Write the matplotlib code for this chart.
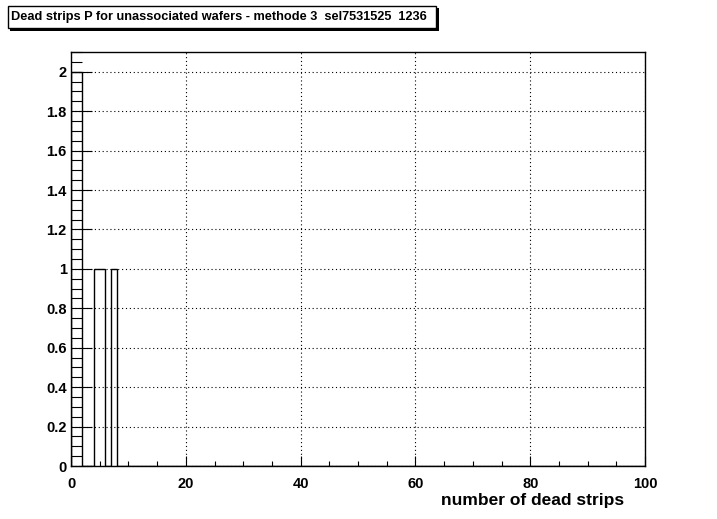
import numpy as np
import matplotlib
matplotlib.use("Agg")
import matplotlib.pyplot as plt
from matplotlib.patches import Rectangle

# Data (bins of width 1 on [0,100])
bin_low = [0, 1, 4, 5, 7]
bin_count = [2, 2, 1, 1, 1]
x_ticks = [0, 20, 40, 60, 80, 100]
x_ticklabels = ["0", "20", "40", "60", "80", "100"]
y_ticks = [0, 0.2, 0.4, 0.6, 0.8, 1.0, 1.2, 1.4, 1.6, 1.8, 2.0]
y_ticklabels = ["0", "0.2", "0.4", "0.6", "0.8", "1", "1.2", "1.4", "1.6", "1.8", "2"]
title = "Dead strips P for unassociated wafers - methode 3  sel7531525  1236"
xlabel = "number of dead strips"

edges = np.arange(0, 101, 1)
counts = np.zeros(100)
for b, c in zip(bin_low, bin_count):
    counts[b] = c

plt.rcParams['font.family'] = ['Liberation Sans', 'DejaVu Sans']
plt.rcParams['font.weight'] = 'bold'

W, H = 717, 519
fig = plt.figure(figsize=(W / 100, H / 100), dpi=100)
fig.patch.set_facecolor('white')

L, R, T, B = 71, 645, 52, 466
ax = fig.add_axes([L / W, 1 - B / H, (R - L) / W, (B - T) / H])
ax.stairs(counts, edges, color='black', linewidth=1.0, baseline=0)
ax.set_xlim(0, 100)
ax.set_ylim(0, 2.1)

ax.set_xticks(x_ticks)
ax.set_xticklabels(x_ticklabels, fontweight='bold', fontsize=10.5)
ax.set_xticks(np.arange(0, 101, 5), minor=True)
ax.set_yticks(y_ticks)
ax.set_yticklabels(y_ticklabels, fontweight='bold', fontsize=10.5)
ax.set_yticks(np.arange(0, 2.1001, 0.05), minor=True)

ax.tick_params(axis='x', which='major', direction='in', length=7.2, width=0.8, pad=8, top=False)
ax.tick_params(axis='x', which='minor', direction='in', length=3.6, width=0.8, top=False)
ax.tick_params(axis='y', which='major', direction='in', length=15, width=0.8, pad=3, right=False)
ax.tick_params(axis='y', which='minor', direction='in', length=8, width=0.8, right=False)

ax.grid(True, which='major', color='black', linestyle=(0, (1, 2.5)), linewidth=0.8)
ax.set_axisbelow(False)
for s in ax.spines.values():
    s.set_linewidth(1.0)
    s.set_color('black')

fig.text(624 / W, 1 - 500 / H, xlabel, ha='right', va='center',
         fontsize=12.5, fontweight='bold')

# Title box with shadow
def px_rect(x0, y0, x1, y1, **kw):
    return Rectangle((x0 / W, 1 - y1 / H), (x1 - x0) / W, (y1 - y0) / H,
                     transform=fig.transFigure, **kw)

fig.patches.append(px_rect(9.5, 7.5, 439, 30.5, facecolor='black', edgecolor='black', linewidth=0))
fig.patches.append(px_rect(7.5, 5.5, 436.5, 28, facecolor='white', edgecolor='black', linewidth=1.0))
fig.text(10.7 / W, 1 - 16.8 / H, title, ha='left', va='center', fontsize=9.2, fontweight='bold')

fig.savefig("out.png", dpi=100)
